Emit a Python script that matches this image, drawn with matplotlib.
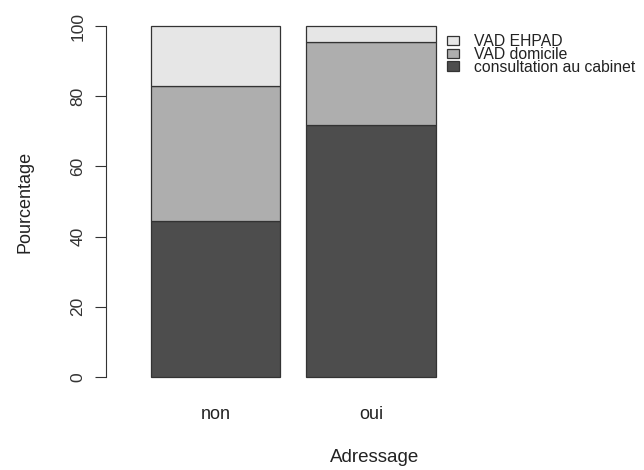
import matplotlib
matplotlib.use("Agg")
import matplotlib.pyplot as plt
import numpy as np

plt.rcParams['font.family'] = ['Liberation Sans', 'DejaVu Sans']

categories = ["non", "oui"]
series_names = ["consultation au cabinet", "VAD domicile", "VAD EHPAD"]
cabinet = [44.4, 71.7]
domicile = [38.5, 23.7]
ehpad = [17.1, 4.6]
colors = ["#4d4d4d", "#aeaeae", "#e6e6e6"]
yticks = [0, 20, 40, 60, 80, 100]

fig = plt.figure(figsize=(6.44, 4.70), dpi=100)
W, H = 644, 470
left, right, top, bottom = 106, 644, 12, 391
ax = fig.add_axes([left / W, (H - bottom) / H, (right - left) / W, (bottom - top) / H])

x = np.array([0.7, 1.9])
bottoms = np.zeros(2)
handles = []
for vals, name, col in zip([cabinet, domicile, ehpad], series_names, colors):
    b = ax.bar(x, vals, width=1.0, bottom=bottoms, color=col, edgecolor="#333333",
               linewidth=0.9, label=name)
    handles.append(b)
    bottoms = bottoms + np.array(vals)

ax.set_xlim(-0.147, 4.007)
ax.set_ylim(-4, 104)
for s in ["top", "right", "bottom"]:
    ax.spines[s].set_visible(False)
ax.spines["left"].set_bounds(0, 100)
ax.spines["left"].set_linewidth(0.8)
ax.spines["left"].set_color("#333333")
ax.set_yticks(yticks)
ax.set_yticklabels([str(t) for t in yticks], rotation=90, va="center", fontsize=12.5, color="#333333")
ax.tick_params(axis="y", length=8, width=0.8, color="#333333", pad=7)
ax.set_xticks(x)
ax.set_xticklabels(categories, fontsize=13, color="#222222")
ax.tick_params(axis="x", length=0, pad=11)

fig.text(375 / W, 1 - 458 / H, "Adressage", ha="center", va="center", fontsize=13.5, color="#222222")
fig.text(25 / W, 1 - 202 / H, "Pourcentage", ha="center", va="center", rotation=90,
         fontsize=13, color="#222222")

leg = ax.legend(handles[::-1], series_names[::-1], loc="upper left",
                bbox_to_anchor=((447 - left) / (right - left), 1 - (34 - top) / (bottom - top)),
                frameon=False, fontsize=11.3, handlelength=0.75, handleheight=0.55,
                handletextpad=1.0, labelspacing=-0.14, borderaxespad=0, borderpad=0)
for t in leg.get_texts():
    t.set_color("#222222")

fig.savefig("out.png", dpi=100)
